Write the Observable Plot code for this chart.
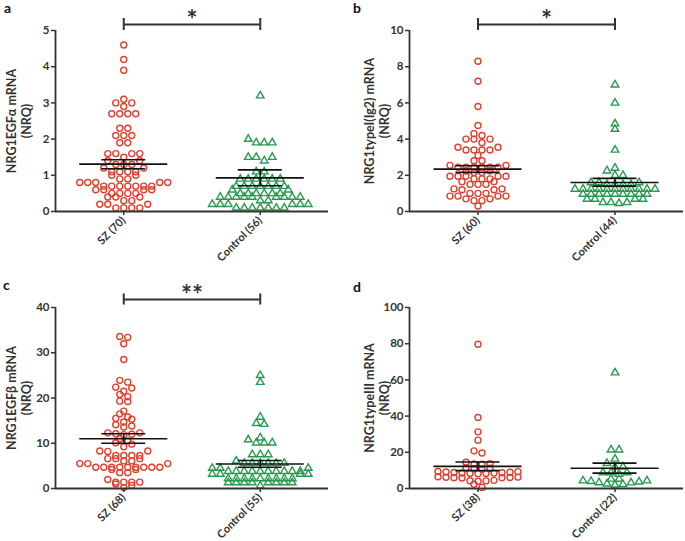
<!DOCTYPE html>
<html><head><meta charset="utf-8">
<script src="https://cdn.jsdelivr.net/npm/d3@7"></script>
<script src="https://cdn.jsdelivr.net/npm/@observablehq/plot@0.6"></script>
<style>
body{margin:0;background:#fff;font-family:Lato,"Open Sans",sans-serif;}
#wrap{position:relative;width:685px;height:541px;overflow:hidden;background:#fff;}
.panel{position:absolute;}
.letter{position:absolute;font-family:Lato,sans-serif;font-weight:bold;font-size:14px;color:#111;line-height:1;}
</style></head><body><div id="wrap"></div>
<script>
// ---------- DATA ----------
const aLabels = ["SZ (70)", "Control (56)"];
const aTicks = [0, 1, 2, 3, 4, 5];
const aTitle = "NRG1EGFα mRNA\n(NRQ)";
const aSZ = [4.6, 4.2, 3.9, 3.1, 3.0, 3.0, 2.9, 2.7, 2.7, 2.7, 2.7, 2.3, 2.3, 2.1, 2.1, 2.1, 1.9, 1.9,
  1.6, 1.6, 1.6, 1.6, 1.5, 1.4, 1.4, 1.3, 1.3, 1.3, 1.2, 1.2, 1.1, 1.1, 1.1, 1.1, 1.0, 1.0,
  0.9, 0.9, 0.8, 0.8, 0.8, 0.8, 0.8, 0.7, 0.7, 0.7, 0.7, 0.7, 0.7, 0.7, 0.6, 0.6, 0.6, 0.6,
  0.5, 0.5, 0.5, 0.5, 0.4, 0.4, 0.4, 0.3, 0.3, 0.2, 0.2, 0.2, 0.1, 0.1, 0.1, 0.1];
const aCtrl = [3.2, 2.0, 1.9, 1.9, 1.9, 1.5, 1.5, 1.5, 1.4, 1.1, 1.1,
  0.9, 0.9, 0.9, 0.9, 0.9, 0.9, 0.7, 0.7, 0.7, 0.7, 0.7, 0.7, 0.7, 0.6, 0.6,
  0.5, 0.5, 0.5, 0.5, 0.5, 0.5, 0.4, 0.4, 0.4, 0.4, 0.4, 0.4, 0.4, 0.4, 0.4, 0.3, 0.3,
  0.2, 0.2, 0.2, 0.2, 0.2, 0.2, 0.1, 0.1, 0.1, 0.1, 0.1, 0.1, 0.1];
const aMean = [1.31, 0.93];
const aUpper = [1.43, 1.15];
const aLower = [1.18, 0.71];
const aSig = "*";

const bLabels = ["SZ (60)", "Control (44)"];
const bTicks = [0, 2, 4, 6, 8, 10];
const bTitle = "NRG1typeI(Ig2) mRNA\n(NRQ)";
const bSZ = [8.3, 7.2, 5.8, 4.75, 4.3, 4.2, 4.0, 4.0, 4.0, 3.8, 3.55, 3.55, 3.4, 3.4, 3.4, 3.4, 3.1,
  2.8, 2.8, 2.55, 2.55, 2.45, 2.45, 2.45, 2.45, 2.45, 2.45, 2.25, 2.25, 2.15, 2.15,
  1.95, 1.95, 1.95, 1.95, 1.95, 1.8, 1.8, 1.8, 1.65, 1.65, 1.5, 1.5, 1.5, 1.25, 1.25, 1.2, 1.2,
  1.0, 1.0, 1.0, 0.85, 0.85, 0.85, 0.85, 0.7, 0.7, 0.6, 0.6, 0.3];
const bCtrl = [7.0, 6.0, 4.85, 4.55, 3.4, 2.4, 2.25, 2.0, 2.0, 1.6, 1.6, 1.6, 1.5, 1.5, 1.5, 1.5,
  1.24, 1.24, 1.24, 1.24, 1.24, 1.24, 1.24, 1.24, 1.24, 1.24, 1.24,
  0.96, 0.96, 0.96, 0.96, 0.96, 0.96, 0.96, 0.96, 0.96, 0.69, 0.69, 0.69, 0.69, 0.5, 0.5, 0.5, 0.45];
const bMean = [2.34, 1.6];
const bUpper = [2.53, 1.83];
const bLower = [2.16, 1.4];
const bSig = "*";

const cLabels = ["SZ (68)", "Control (55)"];
const cTicks = [0, 10, 20, 30, 40];
const cTitle = "NRG1EGFβ mRNA\n(NRQ)";
const cSZ = [33.6, 33.4, 32.0, 28.5, 23.9, 23.5, 22.4, 22.2, 21.5, 20.8, 20.3, 19.3, 19.2, 17.1, 16.5,
  15.8, 15.5, 15.3, 14.7, 14.1, 13.8, 13.6, 12.3, 12.3, 12.1, 12.0, 11.9, 11.0, 10.5, 10.1, 9.8,
  9.2, 8.3, 8.3, 8.2, 7.3, 7.3, 7.3, 7.3, 6.6, 6.6, 6.6, 6.1, 6.1, 5.5, 5.5, 5.5,
  4.7, 4.7, 4.7, 4.7, 4.7, 4.7, 4.7, 4.7, 4.7, 4.2, 4.2, 3.5, 3.5, 2.0, 1.4, 1.4, 1.4, 1.4, 1.0, 0.7, 0.2];
const cCtrl = [25.0, 23.5, 15.8, 14.4, 14.2, 11.2, 10.8, 10.1, 10.1, 10.1, 7.5, 7.5, 7.5, 6.1,
  5.6, 5.6, 5.6, 5.6, 5.6, 5.6, 4.5, 4.5, 4.5,
  3.8, 3.8, 3.8, 3.8, 3.8, 3.8, 3.8, 3.8, 3.8, 3.8, 3.2, 3.2, 3.2, 3.2,
  2.2, 2.2, 2.2, 2.2, 2.2, 2.2, 2.2, 2.2, 2.2, 1.3, 1.3, 1.3, 1.3, 1.3, 1.3, 1.3, 1.3, 0.6];
const cMean = [11.0, 5.4];
const cUpper = [12.1, 6.2];
const cLower = [10.0, 4.7];
const cSig = "**";

const dLabels = ["SZ (38)", "Control (22)"];
const dTicks = [0, 20, 40, 60, 80, 100];
const dTitle = "NRG1typeIII mRNA\n(NRQ)";
const dSZ = [79.7, 39.2, 31.3, 26.7, 20.8, 19.6, 14.5, 13.7, 13.5, 13.4, 11.4, 11.2, 11.0, 10.8,
  9.4, 9.3, 9.1, 9.0, 8.8, 8.7, 8.6, 8.5, 8.4, 8.3, 8.2,
  6.5, 6.3, 6.2, 6.1, 6.0, 5.9, 5.8, 4.5, 4.3, 4.2, 4.0, 2.4, 0.6];
const dCtrl = [64.0, 21.4, 21.4, 16.3, 13.9, 12.0, 11.8, 8.8, 8.8, 8.8, 7.9,
  5.2, 4.3, 3.7, 3.2, 2.6, 2.0, 2.3, 3.3, 4.0, 4.3, 5.3];
const dMean = [12.2, 11.2];
const dUpper = [14.6, 14.0];
const dLower = [9.9, 8.5];
const dSig = null;

// ---------- LAYOUT / STYLE ----------
const RED = "#e2402f", GREEN = "#2a9a50", INK = "#333";
const panels = [
  {letter: "a", lx: 4, ly: 1, left: 0, top: 0, w: 340, h: 270, ml: 55, mr: 12, mt: 30, mb: 59, titleDx: -37,
   labels: aLabels, ticks: aTicks, title: aTitle, sz: aSZ, ctrl: aCtrl, mean: aMean, upper: aUpper, lower: aLower, sig: aSig, gap: 6, half: 6},
  {letter: "b", lx: 353, ly: 1, left: 340, top: 0, w: 345, h: 270, ml: 69, mr: 2, mt: 30, mb: 59, titleDx: -33,
   labels: bLabels, ticks: bTicks, title: bTitle, sz: bSZ, ctrl: bCtrl, mean: bMean, upper: bUpper, lower: bLower, sig: bSig, gap: 6, half: 6},
  {letter: "c", lx: 3, ly: 278, left: 0, top: 270, w: 340, h: 271, ml: 55, mr: 12, mt: 37, mb: 53, titleDx: -37,
   labels: cLabels, ticks: cTicks, title: cTitle, sz: cSZ, ctrl: cCtrl, mean: cMean, upper: cUpper, lower: cLower, sig: cSig, gap: 8, half: 5.5},
  {letter: "d", lx: 353, ly: 280, left: 340, top: 270, w: 345, h: 271, ml: 69, mr: 2, mt: 37, mb: 53, titleDx: -33,
   labels: dLabels, ticks: dTicks, title: dTitle, sz: dSZ, ctrl: dCtrl, mean: dMean, upper: dUpper, lower: dLower, sig: dSig}
];

// GraphPad-like scatter layout: points grouped into rows (within ROWH pixels),
// each row spread symmetrically with STEP pixels, lowest values at the centre.
function swarm(values, yPx, STEP, ROWH) {
  const pts = values.map(v => ({v, y: yPx(v), x: 0})).sort((a, b) => b.y - a.y);
  let i = 0;
  while (i < pts.length) {
    let j = i;
    while (j < pts.length && pts[i].y - pts[j].y < ROWH) j++;
    const row = pts.slice(i, j); // ascending values
    const n = row.length;
    const slots = d3.range(n).map(t => (t - (n - 1) / 2) * STEP)
      .sort((a, b) => (Math.abs(a) - Math.abs(b)) || (b - a));
    row.forEach((p, t) => { p.x = slots[t]; });
    i = j;
  }
  return pts;
}

const wrap = document.getElementById("wrap");
for (const P of panels) {
  const ymax = P.ticks[P.ticks.length - 1];
  const frameH = P.h - P.mt - P.mb;
  const yPx = d3.scaleLinear([0, ymax], [P.h - P.mb, P.mt]);
  const pxPerX = (P.w - P.ml - P.mr) / 2;
  const k = ymax / frameH; // data units per pixel
  const dots = [];
  [P.sz, P.ctrl].forEach((vals, gi) =>
    swarm(vals, yPx, 8, 4.6).forEach(p => dots.push({g: gi, v: p.v, x: gi + p.x / pxPerX})));
  const stats = [0, 1].map(g => ({g, mean: P.mean[g], upper: P.upper[g], lower: P.lower[g]}));
  const halfLine = 44 / pxPerX, halfCap = 22 / pxPerX;
  const marks = [
    Plot.dot(dots.filter(d => d.g === 0), {x: "x", y: "v", r: 3, stroke: RED, strokeWidth: 1.4, fill: "none"}),
    Plot.dot(dots.filter(d => d.g === 1), {x: "x", y: "v", symbol: "triangle", r: 2.8, stroke: GREEN, strokeWidth: 1.4, fill: "none"}),
    Plot.ruleX([-0.5], {y1: 0, y2: ymax, stroke: INK, strokeWidth: 1.8}),
    Plot.ruleY([0], {stroke: INK, strokeWidth: 1.8}),
    Plot.axisY({ticks: P.ticks, tickSize: 4, tickPadding: 2, fontSize: 11.5, fontWeight: "bold", color: INK, strokeWidth: 1.5, label: null, tickFormat: d => String(d)}),
    Plot.axisX({ticks: [0, 1], tickFormat: i => P.labels[i], tickRotate: -45, tickSize: 4, tickPadding: 3, fontSize: 11, fontWeight: "bold", color: INK, strokeWidth: 1.5, label: null}),
    Plot.text([P.title], {frameAnchor: "left", textAnchor: "middle", lineAnchor: "middle", rotate: -90, dx: P.titleDx, fontSize: 12.5, fontWeight: "bold", fill: INK, lineHeight: 1.25}),
    Plot.ruleY(stats, {y: "mean", x1: d => d.g - halfLine, x2: d => d.g + halfLine, stroke: "#111", strokeWidth: 1.6}),
    Plot.ruleY(stats, {y: "upper", x1: d => d.g - halfCap, x2: d => d.g + halfCap, stroke: "#111", strokeWidth: 1.6}),
    Plot.ruleY(stats, {y: "lower", x1: d => d.g - halfCap, x2: d => d.g + halfCap, stroke: "#111", strokeWidth: 1.6}),
    Plot.ruleX(stats, {x: "g", y1: "lower", y2: "upper", stroke: "#111", strokeWidth: 1.6})
  ];
  if (P.sig) {
    const yb = ymax + P.gap * k;
    marks.push(
      Plot.ruleY([yb], {x1: 0, x2: 1, stroke: INK, strokeWidth: 2}),
      Plot.ruleX([0, 1], {y1: yb - P.half * k, y2: yb + P.half * k, stroke: INK, strokeWidth: 2}),
      Plot.text([P.sig], {x: 0.5, y: yb, dy: -4, lineAnchor: "middle", fontSize: 26, fontWeight: "bold", fill: INK})
    );
  }
  const svg = Plot.plot({
    width: P.w, height: P.h,
    marginLeft: P.ml, marginRight: P.mr, marginTop: P.mt, marginBottom: P.mb,
    x: {domain: [-0.5, 1.5]},
    y: {domain: [0, ymax]},
    style: {fontFamily: "Lato, 'Open Sans', sans-serif", background: "transparent", overflow: "visible"},
    marks
  });
  const div = document.createElement("div");
  div.className = "panel";
  div.style.left = P.left + "px"; div.style.top = P.top + "px";
  div.appendChild(svg);
  wrap.appendChild(div);
  const L = document.createElement("div");
  L.className = "letter"; L.textContent = P.letter;
  L.style.left = P.lx + "px"; L.style.top = P.ly + "px";
  wrap.appendChild(L);
}
</script></body></html>
